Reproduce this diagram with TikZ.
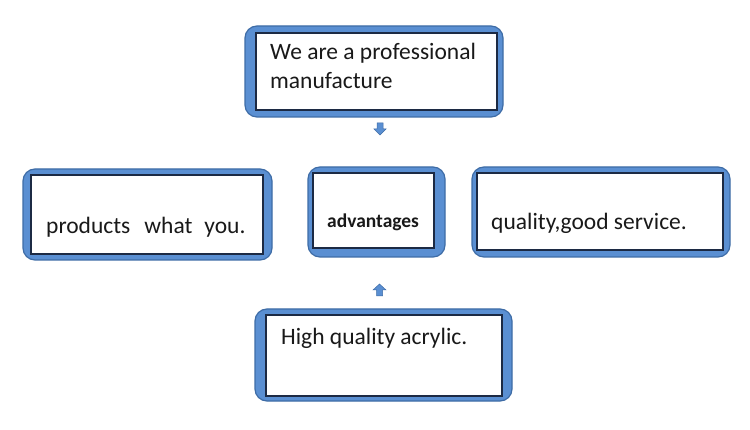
\documentclass[tikz,border=0pt]{standalone}
\usepackage{fontspec}
\setmainfont{Carlito}
\definecolor{bluefill}{HTML}{5A8FD2}
\definecolor{blueedge}{HTML}{3E6CA6}
\definecolor{inneredge}{HTML}{1C2A44}
\begin{document}
\begin{tikzpicture}[x=1pt,y=-1pt,
  outerbox/.style={draw=blueedge, line width=1.2pt, fill=bluefill, rounded corners=12pt, inner sep=0pt},
  innerbox/.style={draw=inneredge, line width=1.3pt, fill=white, inner sep=0pt},
  boxtext/.style={anchor=base west, inner sep=0pt, font=\fontsize{23.5}{28}\selectfont, text=black!90},
  blockarrow/.style={fill=bluefill, draw=blueedge, line width=0.5pt, line join=miter}
]
\useasboundingbox[fill=white] (0,0) rectangle (750,430);
% top
\node[outerbox, minimum width=258pt, minimum height=91pt] (top) at (374,71.5) {};
\node[innerbox, minimum width=241pt, minimum height=77pt] (topi) at (376.5,71.5) {};
\node[boxtext] (topt) at (270,60) {We are a professional};
\node[boxtext] (topt2) at (270,89) {manufacture};
% left
\node[outerbox, minimum width=249pt, minimum height=91pt] (left) at (147.5,214.5) {};
\node[innerbox, minimum width=232pt, minimum height=79pt] (lefti) at (147,214.5) {};
\node[boxtext] (leftt) at (46,234) {products\hspace{14pt}what\hspace{12pt}you.};
% middle
\node[outerbox, minimum width=137pt, minimum height=90pt] (mid) at (376.5,212) {};
\node[innerbox, minimum width=121pt, minimum height=75pt] (midi) at (373.5,210.5) {};
\node[boxtext, font=\fontsize{19.5}{20}\selectfont\bfseries] (midt) at (327,228) {advantages};
% right
\node[outerbox, minimum width=258pt, minimum height=90pt] (right) at (601,212) {};
\node[innerbox, minimum width=246pt, minimum height=77pt] (righti) at (600,211.5) {};
\node[boxtext] (rightt) at (491,230) {quality,good service.};
% bottom
\node[outerbox, minimum width=257pt, minimum height=92pt] (bot) at (383.5,355) {};
\node[innerbox, minimum width=236pt, minimum height=81pt] (boti) at (384,355.5) {};
\node[boxtext] (bott) at (281,345) {High quality acrylic.};
% arrows
\coordinate (arrdown) at (380,123);
\draw[blockarrow] (arrdown) ++(-3,0) -- ++(6,0) -- ++(0,6) -- ++(3,0) -- ++(-6,6) -- ++(-6,-6) -- ++(3,0) -- cycle;
\coordinate (arrup) at (379.5,296);
\draw[blockarrow] (arrup) ++(-3,0) -- ++(6,0) -- ++(0,-6) -- ++(3.5,0) -- ++(-6.5,-6) -- ++(-6.5,6) -- ++(3.5,0) -- cycle;
\end{tikzpicture}
\end{document}
